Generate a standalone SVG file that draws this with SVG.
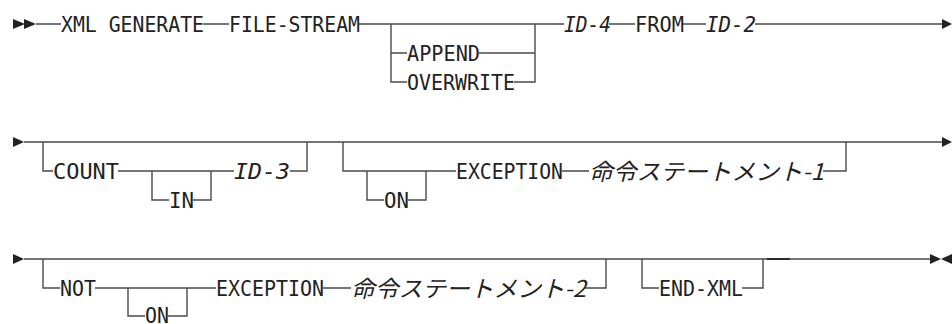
<svg xmlns="http://www.w3.org/2000/svg" width="952" height="324" viewBox="0 0 952 324">
<style>
.ln{fill:none;stroke:#4a4a4a;stroke-width:1.4;stroke-linejoin:miter;stroke-linecap:butt}
.ah{fill:#222;stroke:none}
.t{font-family:"DejaVu Sans Mono","Liberation Mono",monospace;font-size:22px;fill:#222}
.i{font-style:italic}
.j{font-family:"Noto Sans CJK JP","DejaVu Sans",sans-serif;font-size:23px;font-style:italic;fill:#222}
</style>
<rect width="952" height="324" fill="#fff"/>
<g id="connectors">
<path class="ln" d="M36,24H61M203,24H229M359,24H564M391,24V82H407M391,53H407M479,53H535M514,82H535V24M609,24H635M683,24H706M755,24H943"/>
<path class="ln" d="M24,142H943M43,142V171H53M118,171H234M152,171V200H169M193,200H211V171M290,171H307V142M343,142V171H456M367,171V200H384M408,200H426V171M562,171H589M823,171H846V142"/>
<path class="ln" d="M24,259H931M43,259V288H60M95,288H216M128,288V316H145M168,316H187V288M323,288H351M585,288H606V259M642,259V288H659M742,288H763V259"/>
<path class="ln" d="M767,259H790" style="stroke:#222;stroke-width:1.8"/>
<polygon class="ah" points="13,19 13,29 25,24"/>
<polygon class="ah" points="24,19 24,29 36,24"/>
<polygon class="ah" points="942,19 942,29 952,24"/>
<polygon class="ah" points="13,137 13,147 24,142"/>
<polygon class="ah" points="942,137 942,147 952,142"/>
<polygon class="ah" points="13,254 13,264 24,259"/>
<polygon class="ah" points="930,254 930,264 941,259"/>
<polygon class="ah" points="952,254 952,264 941,259"/>
</g>
<g id="xml-generate"><text class="t" x="61" y="32" textLength="143" lengthAdjust="spacingAndGlyphs">XML GENERATE</text></g>
<g id="file-stream"><text class="t" x="229" y="32" textLength="131" lengthAdjust="spacingAndGlyphs">FILE-STREAM</text></g>
<g id="append"><text class="t" x="407" y="61" textLength="73" lengthAdjust="spacingAndGlyphs">APPEND</text></g>
<g id="overwrite"><text class="t" x="407" y="90" textLength="108" lengthAdjust="spacingAndGlyphs">OVERWRITE</text></g>
<g id="id4"><text class="t i" x="564" y="32" textLength="47" lengthAdjust="spacingAndGlyphs">ID-4</text></g>
<g id="from"><text class="t" x="635" y="32" textLength="49" lengthAdjust="spacingAndGlyphs">FROM</text></g>
<g id="id2"><text class="t i" x="706" y="32" textLength="50" lengthAdjust="spacingAndGlyphs">ID-2</text></g>
<g id="count"><text class="t" x="53" y="179" textLength="66" lengthAdjust="spacingAndGlyphs">COUNT</text></g>
<g id="in"><text class="t" x="169" y="208" textLength="25" lengthAdjust="spacingAndGlyphs">IN</text></g>
<g id="id3"><text class="t i" x="234" y="179" textLength="56" lengthAdjust="spacingAndGlyphs">ID-3</text></g>
<g id="on1"><text class="t" x="384" y="208" textLength="25" lengthAdjust="spacingAndGlyphs">ON</text></g>
<g id="exception1"><text class="t" x="456" y="179" textLength="107" lengthAdjust="spacingAndGlyphs">EXCEPTION</text></g>
<g id="stmt1"><text class="j" x="589" y="180" textLength="235" lengthAdjust="spacingAndGlyphs">命令ステートメント-1</text></g>
<g id="not"><text class="t" x="60" y="296" textLength="36" lengthAdjust="spacingAndGlyphs">NOT</text></g>
<g id="on2"><text class="t" x="145" y="323" textLength="24" lengthAdjust="spacingAndGlyphs">ON</text></g>
<g id="exception2"><text class="t" x="216" y="296" textLength="108" lengthAdjust="spacingAndGlyphs">EXCEPTION</text></g>
<g id="stmt2"><text class="j" x="351" y="297" textLength="235" lengthAdjust="spacingAndGlyphs">命令ステートメント-2</text></g>
<g id="end-xml"><text class="t" x="659" y="296" textLength="84" lengthAdjust="spacingAndGlyphs">END-XML</text></g>
</svg>
